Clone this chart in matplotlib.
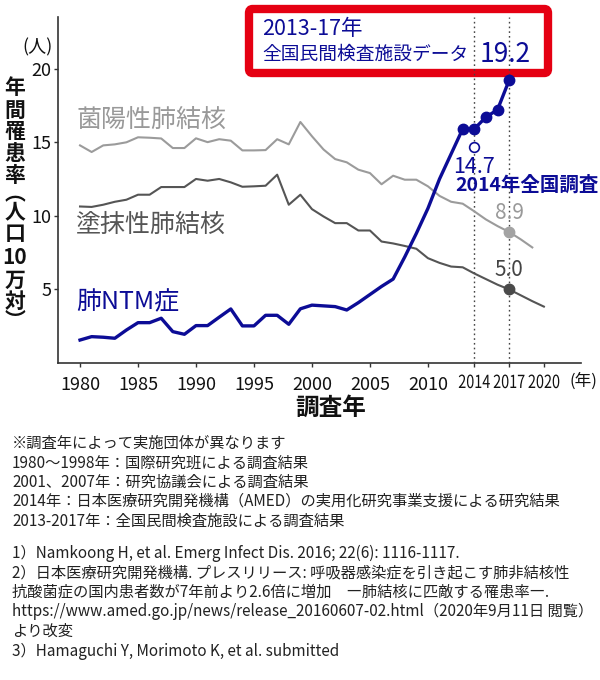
import matplotlib
matplotlib.use('Agg')
import matplotlib.pyplot as plt
from matplotlib.patches import FancyBboxPatch, PathPatch
from matplotlib.textpath import TextPath
from matplotlib.font_manager import FontProperties
from matplotlib.transforms import Affine2D

plt.rcParams['font.family'] = ['Noto Sans CJK JP', 'DejaVu Sans']

# ---------------- data ----------------
years_pos = list(range(1980, 2020))
pos_vals = [14.78, 14.33, 14.78, 14.85, 14.99, 15.33, 15.30, 15.25, 14.60, 14.60,
            15.26, 15.00, 15.20, 15.10, 14.44, 14.44, 14.46, 15.20, 14.85, 16.37,
            15.40, 14.50, 13.85, 13.63, 13.13, 12.90, 12.14, 12.72, 12.45, 12.45,
            12.00, 11.35, 10.95, 10.82, 10.30, 9.75, 9.30, 8.90, 8.40, 7.85]

years_smear = list(range(1980, 2021))
smear_vals = [10.63, 10.60, 10.75, 10.95, 11.09, 11.43, 11.43, 11.95, 11.95, 11.95,
              12.50, 12.38, 12.50, 12.27, 11.97, 12.00, 12.04, 12.79, 10.75, 11.43,
              10.45, 9.95, 9.50, 9.50, 9.00, 9.00, 8.25, 8.12, 7.95, 7.76,
              7.12, 6.80, 6.55, 6.50, 6.08, 5.70, 5.32, 5.00, 4.60, 4.20, 3.83]

years_ntm = list(range(1980, 2018))
ntm_vals = [1.56, 1.79, 1.75, 1.68, 2.24, 2.74, 2.74, 3.04, 2.13, 1.95,
            2.54, 2.54, 3.11, 3.67, 2.52, 2.52, 3.24, 3.24, 2.63, 3.68,
            3.93, 3.88, 3.83, 3.60, 4.10, 4.65, 5.20, 5.70, 7.20, 8.80,
            10.50, 12.50, 14.20, 15.90, 15.90, 16.70, 17.20, 19.20]

years_lab = [2013, 2014, 2015, 2016, 2017]
lab_vals = [15.90, 15.90, 16.70, 17.20, 19.20]

survey_year = 2014
survey_val = 14.7
mark_year = 2017
pos_mark = 8.9
smear_mark = 5.0

xticks = [1980, 1985, 1990, 1995, 2000, 2005, 2010, 2014, 2017, 2020]
xtick_labels = [str(v) for v in xticks]
condensed_ticks = [2014, 2017, 2020]
yticks = [5, 10, 15, 20]
ref_lines_years = [2014, 2017]

label_pos = '菌陽性肺結核'
label_smear = '塗抹性肺結核'
label_ntm = '肺NTM症'
box_title1 = '2013-17年'
box_title2 = '全国民間検査施設データ'
survey_label = '2014年全国調査'
ylabel_items = ['年', '間', '罹', '患', '率', '︵', '人', '口', '10', '万', '対', '︶']
xlabel = '調査年'

notes = ['※調査年によって実施団体が異なります',
         '1980～1998年：国際研究班による調査結果',
         '2001、2007年：研究協議会による調査結果',
         '2014年：日本医療研究開発機構（AMED）の実用化研究事業支援による研究結果',
         '2013-2017年：全国民間検査施設による調査結果']
refs = ['1）Namkoong H, et al. Emerg Infect Dis. 2016; 22(6): 1116-1117.',
        '2）日本医療研究開発機構. プレスリリース: 呼吸器感染症を引き起こす肺非結核性',
        '抗酸菌症の国内患者数が7年前より2.6倍に増加　―肺結核に匹敵する罹患率―.',
        'https://www.amed.go.jp/news/release_20160607-02.html（2020年9月11日 閲覧）',
        'より改変',
        '3）Hamaguchi Y, Morimoto K, et al. submitted']

# ---------------- style ----------------
BLUE = '#0c0c96'
LIGHT = '#9b9b9b'
DARK = '#555555'
RED = '#e50012'

W, H = 600, 680
def fx(x):
    return x / W
def fy(y):
    return 1 - y / H

fig = plt.figure(figsize=(6, 6.8), dpi=100)
ax = fig.add_axes([fx(58), fy(363), fx(581) - fx(58), fy(17) - fy(363)])

# red box
box = FancyBboxPatch((fx(249), fy(73)), fx(548) - fx(249), fy(9) - fy(73),
                     boxstyle='round,pad=0,rounding_size=0.006',
                     transform=fig.transFigure, lw=6, edgecolor=RED,
                     facecolor='white', zorder=2, clip_on=False)
ax.add_patch(box)

for yr in ref_lines_years:
    ax.axvline(yr, color='#444444', ls=(0, (1.2, 2.2)), lw=1.0, zorder=3)

ax.plot(years_pos, pos_vals, color=LIGHT, lw=1.5, zorder=4)
ax.plot(years_smear, smear_vals, color=DARK, lw=1.5, zorder=4)
ax.plot(years_ntm, ntm_vals, color=BLUE, lw=2.4, zorder=5)
ax.plot(years_lab, lab_vals, 'o', ms=7.5, color=BLUE, zorder=6, clip_on=False)
ax.plot([survey_year], [survey_val], 'o', ms=7, mfc='white', mec=BLUE, mew=1.2, zorder=6)
ax.plot([mark_year], [pos_mark], 'o', ms=7.5, color='#a3a3a3', zorder=6)
ax.plot([mark_year], [smear_mark], 'o', ms=7.5, color='#4a4a4a', zorder=6)

ax.annotate(f'{pos_mark}', xy=(mark_year, pos_mark), xytext=(0, 13.5),
            textcoords='offset points', ha='center', va='center',
            fontsize=15, color='#999999')
ax.annotate(f'{smear_mark}', xy=(mark_year, smear_mark), xytext=(0, 14),
            textcoords='offset points', ha='center', va='center',
            fontsize=15, color='#444444')
ax.annotate(f'{survey_val}', xy=(survey_year, survey_val), xytext=(0, -15),
            textcoords='offset points', ha='center', va='center',
            fontsize=15.5, color=BLUE)

ax.set_xlim(1978.1, 2023.2)
ax.set_ylim(0, 23.5)
ax.set_xticks(xticks)
ax.set_xticklabels(['' if v in condensed_ticks else l for v, l in zip(xticks, xtick_labels)])
ax.set_yticks(yticks)
for s in ['top', 'right']:
    ax.spines[s].set_visible(False)
for s in ['left', 'bottom']:
    ax.spines[s].set_color('#333333')
    ax.spines[s].set_linewidth(1.2)
ax.tick_params(axis='x', direction='out', length=3, width=1, pad=6,
               labelsize=13, colors='#333333', labelcolor='#111111')
ax.tick_params(axis='y', direction='out', length=3, width=1, pad=1.5,
               labelsize=13, colors='#333333', labelcolor='#111111')

# horizontally condensed tick labels (2014, 2017, 2020)
fp = FontProperties(family='Noto Sans CJK JP')
size_px = 13 * 100 / 72
for v, l in zip(xticks, xtick_labels):
    if v in condensed_ticks:
        tp = TextPath((0, 0), l, size=size_px, prop=fp)
        bb = tp.get_extents()
        xd = ax.transData.transform((v, 0))[0]
        tr = Affine2D().translate(-(bb.x0 + bb.x1) / 2, 0).scale(0.8, 1).translate(xd, H - 388)
        fig.add_artist(PathPatch(tp, transform=tr, facecolor='#111111', edgecolor='none'))

# series labels
fig.text(fx(76), fy(120), label_pos, ha='left', va='center', fontsize=18, color='#999999')
fig.text(fx(76), fy(225), label_smear, ha='left', va='center', fontsize=18, color='#555555')
fig.text(fx(76), fy(302), label_ntm, ha='left', va='center', fontsize=18, color=BLUE)

# box texts
fig.text(fx(262), fy(29), box_title1, ha='left', va='center', fontsize=15.5, color=BLUE)
fig.text(fx(262), fy(54), box_title2, ha='left', va='center', fontsize=13.5, color=BLUE)
fig.text(fx(505), fy(55), f'{lab_vals[-1]}', ha='center', va='center', fontsize=19, color=BLUE)
fig.text(fx(455), fy(185), survey_label, ha='left', va='center', fontsize=14,
         fontweight='bold', color=BLUE)

# axis labels
fig.text(fx(38), fy(47), '(人)', ha='center', va='center', fontsize=13, color='#111111')
ylabel_y = [88, 110, 132, 154, 176, 194, 212, 234, 257, 280, 302, 320]
for ch, yy in zip(ylabel_items, ylabel_y):
    fig.text(fx(15), fy(yy), ch, ha='center', va='center', fontsize=15,
             fontweight='bold', color='#111111')
fig.text(fx(331), fy(408), xlabel, ha='center', va='center', fontsize=17,
         fontweight='bold', color='#111111')
fig.text(fx(583), fy(381), '(年)', ha='center', va='center', fontsize=12, color='#111111')

# footnotes
for i, t in enumerate(notes):
    fig.text(fx(12), fy(443 + i * 19.5), t, ha='left', va='center', fontsize=11, color='#222222')
for i, t in enumerate(refs):
    fig.text(fx(12), fy(553 + i * 19.6), t, ha='left', va='center', fontsize=11, color='#222222')

fig.savefig('out.png', dpi=100)
